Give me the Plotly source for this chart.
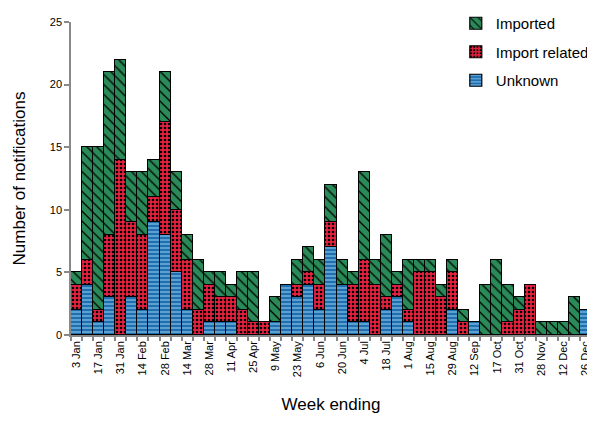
import plotly.graph_objects as go

weeks = ["3 Jan", "10 Jan", "17 Jan", "24 Jan", "31 Jan", "7 Feb", "14 Feb", "21 Feb",
         "28 Feb", "7 Mar", "14 Mar", "21 Mar", "28 Mar", "4 Apr", "11 Apr", "18 Apr",
         "25 Apr", "2 May", "9 May", "16 May", "23 May", "30 May", "6 Jun", "13 Jun",
         "20 Jun", "27 Jun", "4 Jul", "11 Jul", "18 Jul", "25 Jul", "1 Aug", "8 Aug",
         "15 Aug", "22 Aug", "29 Aug", "5 Sep", "12 Sep", "3 Oct", "17 Oct", "24 Oct",
         "31 Oct", "14 Nov", "28 Nov", "5 Dec", "12 Dec", "19 Dec", "26 Dec"]

unknown = [2, 4, 1, 3, 0, 3, 2, 9, 8, 5, 2, 0, 1, 1, 1, 0, 0, 0, 1, 4, 3, 4, 2, 7,
           4, 1, 1, 0, 2, 3, 1, 0, 0, 0, 2, 0, 1, 0, 0, 0, 0, 0, 0, 0, 0, 0, 2]
import_related = [2, 2, 1, 5, 14, 6, 6, 2, 9, 5, 4, 2, 3, 2, 2, 2, 1, 1, 0, 0, 1, 1, 2, 2,
                  0, 3, 5, 4, 1, 1, 1, 5, 5, 3, 3, 1, 0, 0, 0, 1, 2, 4, 0, 0, 0, 0, 0]
imported = [1, 9, 13, 13, 8, 4, 5, 3, 4, 3, 2, 4, 1, 2, 1, 3, 4, 0, 2, 0, 2, 2, 2, 3,
            2, 1, 7, 2, 5, 1, 4, 1, 1, 1, 1, 1, 0, 4, 6, 3, 1, 0, 1, 1, 1, 3, 0]

y_ticks = [0, 5, 10, 15, 20, 25]

x = list(range(len(weeks)))
tick_pos = x[::2]
tick_text = weeks[::2]

series = [
    ("Unknown", unknown, "#1f6fae", "-", "#8cc8f0", 4, 0.28, 3),
    ("Import related", import_related, "#e8213f", ".", "#000000", 4, 0.35, 2),
    ("Imported", imported, "#2a8a58", "\\", "#000000", 7, 0.18, 1),
]

fig = go.Figure()
for name, vals, bg, shape, fg, size, sol, rank in series:
    fig.add_trace(go.Bar(
        x=x, y=vals, name=name, legendgroup=name, legendrank=rank,
        marker=dict(color=bg, line=dict(color="black", width=1.2),
                    pattern=dict(shape=shape, fgcolor=fg, bgcolor=bg,
                                 size=size, solidity=sol, fillmode="replace")),
    ))

fig.update_layout(
    barmode="stack", bargap=0,
    width=587, height=415,
    margin=dict(l=63, r=4, t=14, b=88, autoexpand=False),
    paper_bgcolor="white", plot_bgcolor="white",
    font=dict(family="Liberation Sans, Arial, sans-serif", color="black", size=11),
    legend=dict(x=0.74, y=1.048, xanchor="left", yanchor="top",
                traceorder="grouped", tracegroupgap=6,
                font=dict(size=15), bgcolor="rgba(0,0,0,0)",
                itemwidth=30),
    showlegend=True,
)
fig.update_xaxes(
    range=[-0.5, len(weeks) - 0.5],
    tickmode="array", tickvals=tick_pos, ticktext=tick_text, tickangle=-90,
    ticklabeloverflow="allow",
    ticks="", showline=True, linecolor="#888888", linewidth=1.5,
    showgrid=False, zeroline=False,
    tickfont=dict(size=11),
    minor=dict(tickmode="linear", tick0=0.5, dtick=1, ticks="outside",
               ticklen=4, tickcolor="#888888", tickwidth=1.5, showgrid=False),
    title=dict(text="Week ending", font=dict(size=17), standoff=22),
)
fig.update_yaxes(
    range=[0, 25], tickmode="array", tickvals=y_ticks,
    ticks="outside", ticklen=5, tickcolor="#888888", tickwidth=1.5,
    showline=True, linecolor="#888888", linewidth=1.5,
    showgrid=False, zeroline=False, tickfont=dict(size=11),
    title=dict(text="Number of notifications", font=dict(size=17), standoff=20),
)

fig.write_html("out.html")
